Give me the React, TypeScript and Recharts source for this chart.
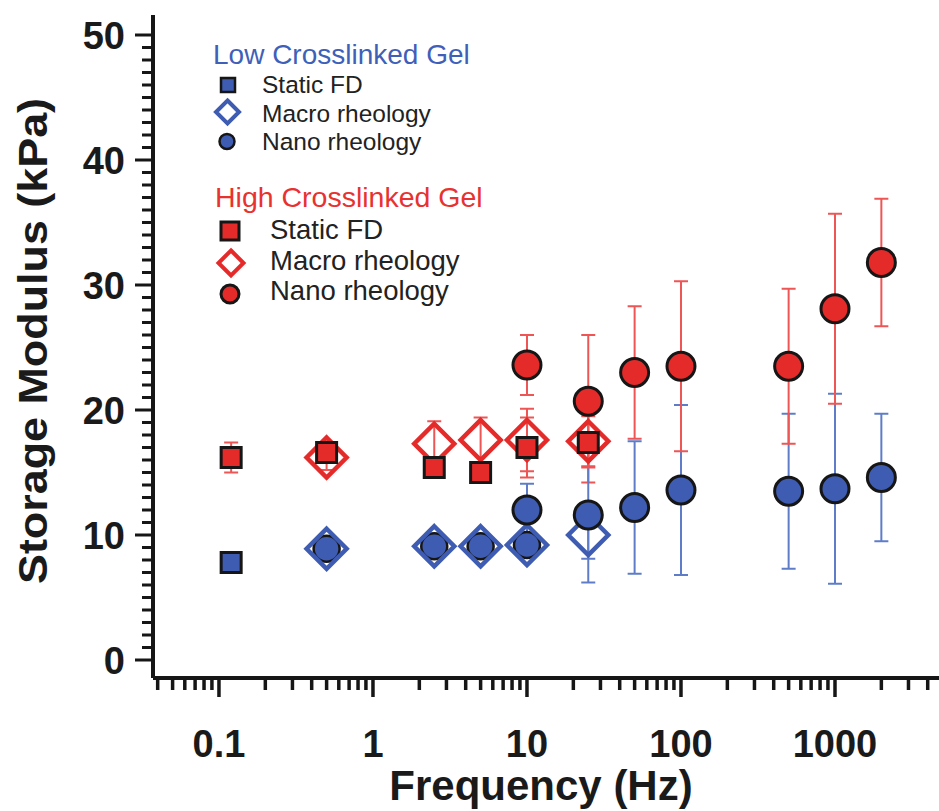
import React from 'react';
import { ScatterChart, Scatter, XAxis, YAxis, ErrorBar } from 'recharts';

// ---- Data (frequency in Hz, storage modulus in kPa, +/- error in kPa) ----
const lowStaticFreq = [0.12];
const lowStaticVal = [7.8];
const lowStaticErr = [0];

const lowMacroFreq = [0.5, 2.5, 5, 10, 25];
const lowMacroVal = [8.9, 9.1, 9.1, 9.2, 10.0];
const lowMacroErr = [0.4, 0.4, 0.4, 0.5, 1.9];

const lowNanoFreq = [10, 25, 50, 100, 500, 1000, 2000];
const lowNanoVal = [12.0, 11.6, 12.2, 13.6, 13.5, 13.7, 14.6];
const lowNanoErr = [2.1, 5.4, 5.3, 6.8, 6.2, 7.6, 5.1];

const highStaticFreq = [0.12, 0.5, 2.5, 5, 10, 25];
const highStaticVal = [16.2, 16.6, 15.4, 15.0, 17.0, 17.4];
const highStaticErr = [1.2, 0.8, 0.5, 0.5, 2.4, 3.2];

const highMacroFreq = [0.5, 2.5, 5, 10, 25];
const highMacroVal = [16.2, 17.3, 17.6, 17.6, 17.5];
const highMacroErr = [1.0, 1.8, 1.8, 2.5, 2.0];

const highNanoFreq = [10, 25, 50, 100, 500, 1000, 2000];
const highNanoVal = [23.6, 20.7, 23.0, 23.5, 23.5, 28.1, 31.8];
const highNanoErr = [2.4, 5.3, 5.3, 6.8, 6.2, 7.6, 5.1];

// ---- Tick labels ----
const xMajorTicks = [0.1, 1, 10, 100, 1000];
const xMinorDigits = [2, 3, 4, 5, 6, 7, 8, 9];
const yMajorTicks = [0, 10, 20, 30, 40, 50];

// ---- Legend text ----
const lowTitle = 'Low Crosslinked Gel';
const highTitle = 'High Crosslinked Gel';
const seriesNames = ['Static FD', 'Macro rheology', 'Nano rheology'];

// ---- Styling / layout constants ----
const X_DOMAIN: [number, number] = [0.0373, 10000];
const Y_DOMAIN: [number, number] = [-1.44, 51.6];
const RED = '#e52a2a';
const BLUE = '#3e5cb2';
const RED_ERR = '#ee5555';
const BLUE_ERR = '#5f7cc9';
const INK = '#161616';
const FONT = '"Liberation Sans", Arial, Helvetica, sans-serif';
const Y_MINOR_LEN = 11;

const rows = (f: number[], v: number[], e: number[]) =>
  f.map((x, i) => ({ f: x, v: v[i], err: e[i] }));

const lowStatic = rows(lowStaticFreq, lowStaticVal, lowStaticErr);
const lowMacro = rows(lowMacroFreq, lowMacroVal, lowMacroErr);
const lowNano = rows(lowNanoFreq, lowNanoVal, lowNanoErr);
const highStatic = rows(highStaticFreq, highStaticVal, highStaticErr);
const highMacro = rows(highMacroFreq, highMacroVal, highMacroErr);
const highNano = rows(highNanoFreq, highNanoVal, highNanoErr);

const xDecades = [0.01, 0.1, 1, 10, 100, 1000];
const xAllTicks = [
  ...xMajorTicks,
  ...xDecades.flatMap((d) => xMinorDigits.map((k) => +(d * k).toPrecision(6))),
]
  .filter((t) => t >= X_DOMAIN[0] && t <= X_DOMAIN[1])
  .sort((a, b) => a - b);
const yAllTicks = Array.from({ length: 51 }, (_, i) => i);

const isXMajor = (v: number) => xMajorTicks.some((m) => Math.abs(m - v) / m < 1e-6);

function XTick(props: any) {
  const { x, y, payload } = props;
  const v = payload.value;
  const major = isXMajor(v);
  return (
    <g>
      <line x1={x} x2={x} y1={y} y2={y + (major ? 19 : 12)} stroke={INK} strokeWidth={3.5} />
      {major && (
        <text x={x} y={y + 79} textAnchor="middle" fontFamily={FONT} fontWeight="bold" fontSize={38} fill="#1a1a1a">
          {String(v)}
        </text>
      )}
    </g>
  );
}

// Recharts draws the short tick line for every value; majors get an extension and a label.
function YTick(props: any) {
  const { x, y, payload } = props;
  const v = Number(payload.value);
  if (!yMajorTicks.includes(v)) return <g />;
  return (
    <g>
      <line x1={x} x2={x - 7} y1={y} y2={y} stroke={INK} strokeWidth={3} />
      <text x={x - 17} y={y + 13.5} textAnchor="end" fontFamily={FONT} fontWeight="bold" fontSize={38} fill="#1a1a1a">
        {String(v)}
      </text>
    </g>
  );
}

const squareShape = (fill: string, s: number) => (p: any) => (
  <rect x={p.cx - s / 2} y={p.cy - s / 2} width={s} height={s} fill={fill} stroke={INK} strokeWidth={3} />
);

const circleShape = (fill: string, r: number) => (p: any) => (
  <circle cx={p.cx} cy={p.cy} r={r} fill={fill} stroke={INK} strokeWidth={3} />
);

const diamondPath = (cx: number, cy: number, h: number) =>
  `M${cx},${cy - h}L${cx + h},${cy}L${cx},${cy + h}L${cx - h},${cy}Z`;

const highDiamondShape = (p: any) => (
  <path d={diamondPath(p.cx, p.cy, 20)} fill="none" stroke={RED} strokeWidth={4.5} strokeLinejoin="miter" />
);

const lowDiamondShape = (p: any) => {
  const filled = p.payload && p.payload.f <= 10;
  return (
    <g>
      {filled && <circle cx={p.cx} cy={p.cy} r={13} fill={BLUE} stroke={INK} strokeWidth={2.5} />}
      <path d={diamondPath(p.cx, p.cy, 20)} fill="none" stroke={BLUE} strokeWidth={4.5} strokeLinejoin="miter" />
    </g>
  );
};

function LegendOverlay() {
  const txt = { fontFamily: FONT } as const;
  return (
    <svg width={939} height={811} style={{ position: 'absolute', left: 0, top: 0, pointerEvents: 'none' }}>
      {/* axis titles */}
      <text x={541} y={800} textAnchor="middle" fontFamily={FONT} fontWeight="bold" fontSize={42} fill="#1a1a1a">
        Frequency (Hz)
      </text>
      <g transform="translate(47,341) rotate(-90)">
        <text x={0} y={0} textAnchor="middle" fontFamily={FONT} fontWeight="bold" fontSize={41} fill="#1a1a1a"
          textLength={486} lengthAdjust="spacingAndGlyphs">
          Storage Modulus (kPa)
        </text>
      </g>

      {/* Low crosslinked legend */}
      <text x={213} y={64} {...txt} fontSize={28} fill="#3f5fb8">{lowTitle}</text>
      <rect x={221} y={78} width={14} height={14} fill={BLUE} stroke={INK} strokeWidth={2.5} />
      <text x={262} y={93} {...txt} fontSize={24.5} fill="#222">{seriesNames[0]}</text>
      <path d={diamondPath(227.5, 112, 11.5)} fill="#fff" stroke={BLUE} strokeWidth={4} />
      <text x={262} y={122} {...txt} fontSize={24.5} fill="#222">{seriesNames[1]}</text>
      <circle cx={227} cy={141.5} r={7.5} fill={BLUE} stroke={INK} strokeWidth={2.5} />
      <text x={262} y={150} {...txt} fontSize={24.5} fill="#222">{seriesNames[2]}</text>

      {/* High crosslinked legend */}
      <text x={215} y={207} {...txt} fontSize={28.5} fill="#e8322f">{highTitle}</text>
      <rect x={221} y={222} width={18} height={18} fill={RED} stroke={INK} strokeWidth={3} />
      <text x={270} y={239} {...txt} fontSize={27.5} fill="#222">{seriesNames[0]}</text>
      <path d={diamondPath(231, 263, 12.5)} fill="#fff" stroke={RED} strokeWidth={4} />
      <text x={270} y={270} {...txt} fontSize={27.5} fill="#222">{seriesNames[1]}</text>
      <circle cx={230} cy={294} r={9} fill={RED} stroke={INK} strokeWidth={3} />
      <text x={270} y={300} {...txt} fontSize={27.5} fill="#222">{seriesNames[2]}</text>
    </svg>
  );
}

export default function App() {
  return (
    <div style={{ position: 'absolute', left: 0, top: 0, width: 939, height: 811, overflow: 'hidden', background: '#fff' }}>
      <ScatterChart width={989} height={811} margin={{ top: 15, right: 0, bottom: 0, left: 0 }}>
        <XAxis xAxisId={0} dataKey="f" type="number" scale="log" domain={X_DOMAIN} allowDataOverflow
          ticks={xAllTicks} interval={0} minTickGap={0} tick={<XTick />} tickLine={false} tickSize={0} tickMargin={0}
          height={133} axisLine={{ stroke: INK, strokeWidth: 4 }} />
        <XAxis xAxisId="top" orientation="top" type="number" scale="log" domain={X_DOMAIN} allowDataOverflow
          tick={false} tickLine={false} height={0} axisLine={{ stroke: INK, strokeWidth: 4 }} />
        <YAxis dataKey="v" type="number" domain={Y_DOMAIN} allowDataOverflow ticks={yAllTicks} interval={0}
          tick={<YTick />} tickLine={{ stroke: INK, strokeWidth: 3 }} tickSize={Y_MINOR_LEN} tickMargin={0} width={153}
          axisLine={{ stroke: INK, strokeWidth: 4 }} />

        <Scatter name="High Macro" data={highMacro} shape={highDiamondShape} isAnimationActive={false}>
          <ErrorBar dataKey="err" direction="y" width={7} stroke={RED_ERR} strokeWidth={2} />
        </Scatter>
        <Scatter name="Low Macro" data={lowMacro} shape={lowDiamondShape} isAnimationActive={false}>
          <ErrorBar dataKey="err" direction="y" width={7} stroke={BLUE_ERR} strokeWidth={2} />
        </Scatter>
        <Scatter name="High Static" data={highStatic} shape={squareShape(RED, 20)} isAnimationActive={false}>
          <ErrorBar dataKey="err" direction="y" width={7} stroke={RED_ERR} strokeWidth={2} />
        </Scatter>
        <Scatter name="Low Static" data={lowStatic} shape={squareShape(BLUE, 20)} isAnimationActive={false}>
          <ErrorBar dataKey="err" direction="y" width={7} stroke={BLUE_ERR} strokeWidth={2} />
        </Scatter>
        <Scatter name="Low Nano" data={lowNano} shape={circleShape(BLUE, 14)} isAnimationActive={false}>
          <ErrorBar dataKey="err" direction="y" width={7} stroke={BLUE_ERR} strokeWidth={2} />
        </Scatter>
        <Scatter name="High Nano" data={highNano} shape={circleShape(RED, 14)} isAnimationActive={false}>
          <ErrorBar dataKey="err" direction="y" width={7} stroke={RED_ERR} strokeWidth={2} />
        </Scatter>
      </ScatterChart>
      <LegendOverlay />
    </div>
  );
}
